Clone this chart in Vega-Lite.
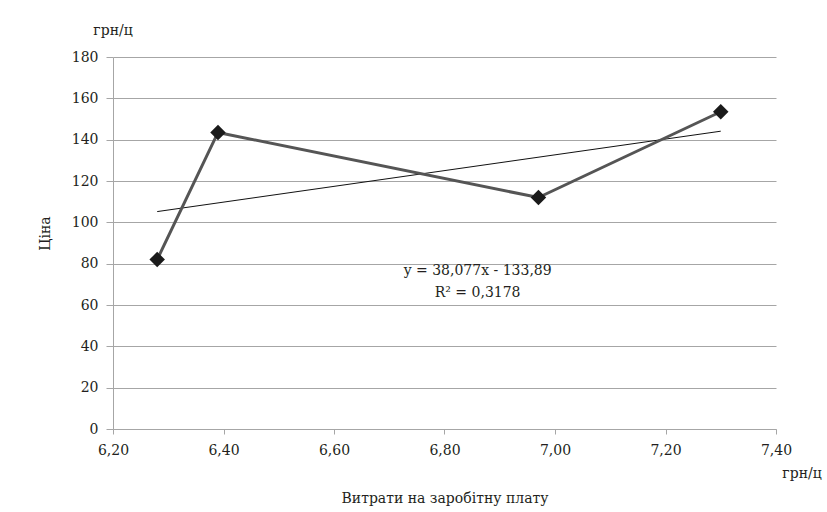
{
  "$schema": "https://vega.github.io/schema/vega-lite/v6.json",
  "width": 663,
  "height": 372,
  "autosize": {"type": "none"},
  "padding": {"left": 113, "top": 57, "right": 51, "bottom": 83},
  "background": "white",
  "config": {
    "view": {"stroke": null},
    "font": "DejaVu Serif",
    "text": {"font": "DejaVu Serif"},
    "title": {"font": "DejaVu Serif"}
  },
  "title": {
    "text": "грн/ц",
    "anchor": "start",
    "frame": "group",
    "align": "center",
    "font": "DejaVu Serif",
    "fontSize": 14,
    "fontWeight": "normal",
    "color": "#231f20",
    "offset": 12
  },
  "datasets": {
    "points": [
      {"x": 6.28, "y": 82},
      {"x": 6.39, "y": 143.5},
      {"x": 6.97, "y": 112},
      {"x": 7.30, "y": 153.5}
    ],
    "trend": [
      {"x": 6.28, "y": 105.2},
      {"x": 7.30, "y": 144.1}
    ],
    "labels": [
      {"x": 6.86, "y": 76.5, "t": "y = 38,077x - 133,89"},
      {"x": 6.86, "y": 65.9, "t": "R² = 0,3178"}
    ],
    "unit": [
      {"x": 7.4, "y": 0, "t": "грн/ц"}
    ]
  },
  "encoding": {
    "x": {
      "field": "x",
      "type": "quantitative",
      "scale": {"domain": [6.2, 7.4], "nice": false, "zero": false},
      "axis": {
        "title": "Витрати на заробітну плату",
        "titleFont": "DejaVu Serif",
        "titleFontSize": 14,
        "titleFontWeight": "normal",
        "titleColor": "#231f20",
        "titlePadding": 34,
        "values": [6.2, 6.4, 6.6, 6.8, 7.0, 7.2, 7.4],
        "labelExpr": "replace(format(datum.value, '.2f'), '.', ',')",
        "labelFont": "DejaVu Serif",
        "labelFontSize": 14,
        "labelColor": "#231f20",
        "labelPadding": 9,
        "labelFlush": false,
        "labelOverlap": false,
        "grid": false,
        "domainColor": "#a6a6a6",
        "tickColor": "#a6a6a6",
        "tickSize": 5
      }
    },
    "y": {
      "field": "y",
      "type": "quantitative",
      "scale": {"domain": [0, 180], "nice": false},
      "axis": {
        "title": "Ціна",
        "titleFont": "DejaVu Serif",
        "titleFontSize": 14,
        "titleFontWeight": "normal",
        "titleColor": "#231f20",
        "titleX": -68,
        "titleY": 176,
        "titleBaseline": "middle",
        "values": [0, 20, 40, 60, 80, 100, 120, 140, 160, 180],
        "labelFont": "DejaVu Serif",
        "labelFontSize": 14,
        "labelColor": "#231f20",
        "labelPadding": 8,
        "grid": true,
        "gridColor": "#a6a6a6",
        "gridWidth": 1,
        "domainColor": "#a6a6a6",
        "tickColor": "#a6a6a6",
        "tickSize": 7
      }
    }
  },
  "layer": [
    {
      "data": {"name": "trend"},
      "mark": {"type": "line", "color": "#111111", "strokeWidth": 1}
    },
    {
      "data": {"name": "points"},
      "mark": {"type": "line", "color": "#555555", "strokeWidth": 3}
    },
    {
      "data": {"name": "points"},
      "mark": {"type": "point", "shape": "diamond", "filled": true, "size": 240, "color": "#1a1a1a", "opacity": 1}
    },
    {
      "data": {"name": "labels"},
      "mark": {"type": "text", "font": "DejaVu Serif", "fontSize": 14, "color": "#231f20", "align": "center", "baseline": "middle"},
      "encoding": {"text": {"field": "t"}}
    },
    {
      "data": {"name": "unit"},
      "mark": {"type": "text", "font": "DejaVu Serif", "fontSize": 14, "color": "#231f20", "align": "center", "baseline": "middle", "dx": 26, "dy": 45},
      "encoding": {"text": {"field": "t"}}
    }
  ]
}
